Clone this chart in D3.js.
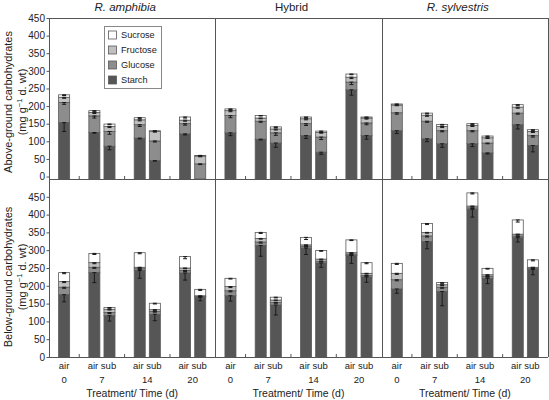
<!DOCTYPE html>
<html><head><meta charset="utf-8">
<script src="https://cdn.jsdelivr.net/npm/d3@7"></script>
<style>
body{margin:0;background:#fff;}
svg{display:block;font-family:"Liberation Sans",Arial,sans-serif;}
</style></head>
<body>
<svg id="chart" width="549" height="400"></svg>
<script>
// ---------- data ----------
const species = ["R. amphibia", "Hybrid", "R. sylvestris"];
const speciesItalic = [true, false, true];
const times = ["0", "7", "14", "20"];
const barTreat = ["air", "air", "sub", "air", "sub", "air", "sub"];
const barTime = [0, 1, 1, 2, 2, 3, 3];
const components = ["Starch", "Glucose", "Fructose", "Sucrose"];
const legendOrder = ["Sucrose", "Fructose", "Glucose", "Starch"];
const yTicks = [0, 50, 100, 150, 200, 250, 300, 350, 400, 450];

// Above-ground (mg g-1 d. wt), per species, per bar
const aboveStarch   = [[153,125,86,109,45,121,0],[124,106,95,116,69,246,116],[130,107,93,93,67,147,88]];
const aboveGlucose  = [[57,47,42,38,56,29,36],[49,51,29,34,43,22,36],[51,50,37,37,28,33,28]];
const aboveFructose = [[15,10,14,14,27,10,22],[14,9,11,14,13,14,14],[22,17,12,15,15,17,12]];
const aboveSucrose  = [[7,5,7,6,2,9,2],[5,7,6,5,4,9,3],[3,6,6,5,5,7,5]];
// Below-ground
const belowStarch   = [[175,237,116,243,120,236,168],[172,313,146,306,264,285,225],[191,324,184,415,221,335,246]];
const belowGlucose  = [[21,15,9,5,8,7,2],[14,10,7,5,5,4,4],[26,16,12,4,5,5,3]];
const belowFructose = [[16,13,9,4,5,7,2],[12,10,7,4,6,4,6],[18,10,7,5,5,5,3]];
const belowSucrose  = [[25,26,5,41,18,32,18],[23,17,8,21,24,36,30],[28,25,6,37,18,40,21]];

// Error (SE), drawn downward from each segment top
const aboveStarchErr   = [[25,2,10,2,1,3,0],[8,2,12,8,6,15,10],[8,8,10,8,3,12,18]];
const aboveGlucoseErr  = [[5,6,8,5,3,4,2],[6,3,7,5,7,7,5],[4,3,3,3,2,3,4]];
const aboveFructoseErr = [[3,3,3,3,2,3,2],[3,2,3,3,2,4,3],[2,3,3,3,2,3,3]];
const aboveSucroseErr  = [[2,2,2,2,1,3,1],[2,1,2,2,2,2,2],[2,2,2,2,2,2,2]];
const belowStarchErr   = [[20,28,15,22,18,20,10],[15,30,28,18,12,22,15],[12,20,40,22,15,12,15]];
const belowGlucoseErr  = [[3,3,3,2,2,3,2],[3,3,2,2,2,2,2],[3,3,3,2,2,2,2]];
const belowFructoseErr = [[3,3,2,2,2,2,2],[3,2,2,2,2,2,2],[3,2,2,2,2,2,2]];
const belowSucroseErr  = [[3,3,2,3,2,6,3],[2,3,2,6,2,2,3],[3,3,2,3,2,6,3]];

// ---------- layout ----------
const svg = d3.select("#chart");
const L = 49, R = 548, TOP = 18, MID = 179, BOT = 357;
const panelW = (R - L) / 3;
const colors = {Starch:"#565656", Glucose:"#8d8d8d", Fructose:"#c0c0c0", Sucrose:"#ffffff"};
const textCol = "#222";
const lineCol = "#555";

const yAbove = d3.scaleLinear().domain([-7, 450]).range([MID, TOP]);
const yBelow = d3.scaleLinear().domain([0, 500]).range([BOT, MID]);

function slotOf(i){ const t = barTime[i]; return barTreat[i] === "air" ? (t === 0 ? 1 : 3*t) : 3*t + 1; }

const panels = [
  {y: yAbove, data: [aboveStarch, aboveGlucose, aboveFructose, aboveSucrose],
   err: [aboveStarchErr, aboveGlucoseErr, aboveFructoseErr, aboveSucroseErr]},
  {y: yBelow, data: [belowStarch, belowGlucose, belowFructose, belowSucrose],
   err: [belowStarchErr, belowGlucoseErr, belowFructoseErr, belowSucroseErr]}
];

species.forEach((sp, s) => {
  const x = d3.scaleLinear().domain([0, 11]).range([L + s*panelW, L + (s+1)*panelW]);
  const bw = (x(1) - x(0)) * 0.73;
  panels.forEach(p => {
    const g = svg.append("g");
    const base = p.y.domain()[0];
    barTreat.forEach((tr, i) => {
      const cx = x(slotOf(i));
      let cum = 0, first = true;
      const segs = [];
      components.forEach((c, k) => {
        const v = p.data[k][s][i];
        if (v <= 0) return;
        const y0 = first ? base : cum;
        first = false;
        cum += v;
        segs.push({c, y0, y1: cum, e: p.err[k][s][i]});
      });
      segs.forEach(sg => {
        g.append("rect")
          .attr("x", cx - bw/2).attr("width", bw)
          .attr("y", p.y(sg.y1)).attr("height", Math.max(0, p.y(sg.y0) - p.y(sg.y1)))
          .attr("fill", colors[sg.c]).attr("stroke", "#5a5a5a").attr("stroke-width", 0.8);
      });
      segs.forEach(sg => {
        const yt = p.y(sg.y1), yb = p.y(sg.y1 - sg.e);
        const eg = g.append("g").attr("stroke", "#1a1a1a").attr("stroke-width", 1);
        eg.append("line").attr("x1", cx).attr("x2", cx).attr("y1", yt).attr("y2", yb);
        eg.append("line").attr("x1", cx-2).attr("x2", cx+2).attr("y1", yt).attr("y2", yt);
        eg.append("line").attr("x1", cx-2).attr("x2", cx+2).attr("y1", yb).attr("y2", yb);
      });
    });
    // x ticks pointing up
    const yBase = p.y.range()[0];
    [2, 5, 8].forEach(t => {
      g.append("line").attr("x1", x(t)).attr("x2", x(t))
        .attr("y1", yBase).attr("y2", yBase - 3).attr("stroke", lineCol);
    });
  });
  // titles
  svg.append("text").attr("x", x(5.5) - 7).attr("y", 11)
    .attr("text-anchor", "middle").attr("font-size", 11.5)
    .attr("font-style", speciesItalic[s] ? "italic" : "normal")
    .attr("fill", textCol).text(sp);
  // x labels
  times.forEach((t, ti) => {
    const pos = ti === 0 ? 1 : 3*ti + 0.5;
    svg.append("text").attr("x", x(pos)).attr("y", 369)
      .attr("text-anchor", "middle").attr("font-size", 9.5).attr("fill", textCol)
      .text(ti === 0 ? "air" : "air sub");
    svg.append("text").attr("x", x(pos)).attr("y", 383)
      .attr("text-anchor", "middle").attr("font-size", 9.5).attr("fill", textCol)
      .text(t);
  });
  svg.append("text").attr("x", x(5.5)).attr("y", 397)
    .attr("text-anchor", "middle").attr("font-size", 10.5).attr("fill", textCol)
    .text("Treatment/ Time (d)");
});

// frame lines
const fr = svg.append("g").attr("stroke", lineCol).attr("stroke-width", 1).attr("fill", "none");
fr.append("line").attr("x1", L).attr("x2", R).attr("y1", TOP+0.5).attr("y2", TOP+0.5);
fr.append("line").attr("x1", L).attr("x2", R).attr("y1", MID+0.5).attr("y2", MID+0.5);
fr.append("line").attr("x1", L).attr("x2", R).attr("y1", BOT+0.5).attr("y2", BOT+0.5);
[0, 1, 2, 3].forEach(k => {
  const xx = Math.round(L + k*panelW) + 0.5;
  fr.append("line").attr("x1", xx).attr("x2", xx).attr("y1", TOP).attr("y2", BOT);
});

// y axes
[yAbove, yBelow].forEach(ys => {
  const ax = svg.append("g").attr("transform", `translate(${L + 0.5},0)`)
    .call(d3.axisLeft(ys).tickValues(yTicks).tickSize(3).tickPadding(1.5));
  ax.select(".domain").remove();
  ax.selectAll("line").attr("stroke", lineCol);
  ax.selectAll("text").attr("font-size", 10).attr("fill", textCol)
    .attr("font-family", "Liberation Sans, Arial, sans-serif");
});

// y titles
function yTitle(cy, line1){
  const t = svg.append("text").attr("transform", `translate(0,${cy}) rotate(-90)`)
    .attr("text-anchor", "middle").attr("font-size", 11).attr("fill", textCol);
  t.append("tspan").attr("x", 0).attr("y", 11.5).text(line1);
  const t2 = t.append("tspan").attr("x", 0).attr("y", 26);
  t2.append("tspan").text("(mg g");
  t2.append("tspan").attr("font-size", 7.5).attr("dy", -4).text("\u22121");
  t2.append("tspan").attr("dy", 4).text(" d. wt)");
}
yTitle(102, "Above-ground carbohydrates");
yTitle(277, "Below-ground carbohydrates");

// legend
const lg = svg.append("g");
lg.append("rect").attr("x", 104.5).attr("y", 26.5).attr("width", 57).attr("height", 62)
  .attr("fill", "#fff").attr("stroke", "#888");
legendOrder.forEach((c, i) => {
  const cy = 35 + i*15;
  lg.append("rect").attr("x", 108.5).attr("y", cy - 4).attr("width", 8).attr("height", 8)
    .attr("fill", colors[c]).attr("stroke", "#5a5a5a").attr("stroke-width", 0.8);
  lg.append("text").attr("x", 121).attr("y", cy + 3.3).attr("font-size", 9.2)
    .attr("fill", textCol).text(c);
});
</script>
</body></html>
